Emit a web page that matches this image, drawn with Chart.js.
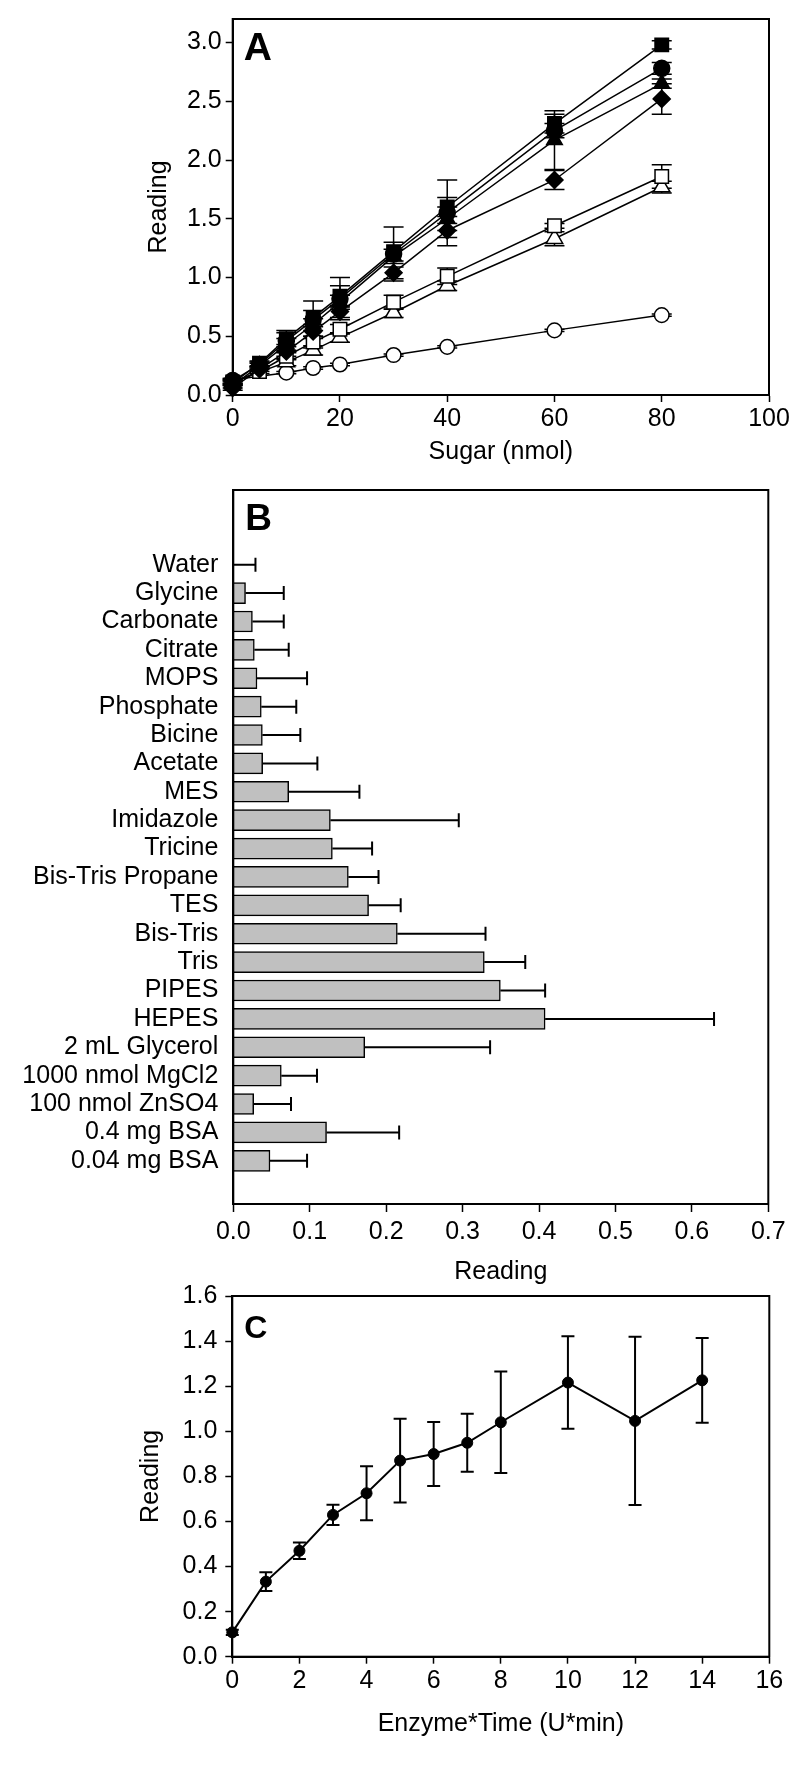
<!DOCTYPE html>
<html><head><meta charset="utf-8">
<script src="https://cdn.jsdelivr.net/npm/chart.js@4.4.1/dist/chart.umd.min.js"></script>
<style>
html,body{margin:0;padding:0;background:#fff;}
body{width:800px;height:1774px;position:relative;overflow:hidden;}
canvas{position:absolute;left:0;}
</style></head><body>
<canvas id="cA" width="800" height="480" style="top:0px"></canvas>
<canvas id="cB" width="800" height="830" style="top:460px"></canvas>
<canvas id="cC" width="800" height="504" style="top:1270px"></canvas>
<script>
// ---------- Panel A data ----------
const sugarX = [0, 5, 10, 15, 20, 30, 40, 60, 80];
const sugarXShort = [0, 10, 15, 20, 30, 40, 60, 80];
const aFilledSquare = [0.10, 0.27, 0.48, 0.66, 0.84, 1.22, 1.60, 2.31, 2.98];
const aFilledSquareErr = [0.02, 0.02, 0.05, 0.06, 0.09, 0.08, 0.08, 0.08, 0.035];
const aFilledCircle = [0.12, 0.26, 0.46, 0.64, 0.82, 1.20, 1.55, 2.25, 2.78];
const aFilledCircleErr = [0.02, 0.02, 0.09, 0.16, 0.18, 0.23, 0.28, 0.06, 0.05];
const aFilledTriangle = [0.08, 0.25, 0.43, 0.60, 0.79, 1.18, 1.50, 2.17, 2.65];
const aFilledTriangleErr = [0.02, 0.02, 0.05, 0.05, 0.06, 0.06, 0.10, 0.25, 0.04];
const aFilledDiamond = [0.06, 0.22, 0.37, 0.54, 0.71, 1.04, 1.40, 1.83, 2.52];
const aFilledDiamondErr = [0.02, 0.02, 0.04, 0.04, 0.05, 0.05, 0.06, 0.08, 0.13];
const aOpenSquare = [0.11, 0.20, 0.33, 0.45, 0.56, 0.79, 1.01, 1.44, 1.86];
const aOpenSquareErr = [0.02, 0.02, 0.03, 0.05, 0.04, 0.06, 0.07, 0.02, 0.10];
const aOpenTriangle = [0.11, 0.28, 0.38, 0.49, 0.70, 0.93, 1.33, 1.77];
const aOpenTriangleErr = [0.02, 0.03, 0.04, 0.04, 0.04, 0.04, 0.06, 0.05];
const aOpenCircle = [0.13, 0.19, 0.23, 0.26, 0.34, 0.41, 0.55, 0.68];
const aOpenCircleErr = [0.01, 0.01, 0.01, 0.01, 0.01, 0.01, 0.01, 0.01];
const aXTicks = [0, 20, 40, 60, 80, 100];
const aYTicks = [0, 0.5, 1.0, 1.5, 2.0, 2.5, 3.0];

// ---------- Panel B data ----------
const bCategories = ['Water', 'Glycine', 'Carbonate', 'Citrate', 'MOPS', 'Phosphate', 'Bicine', 'Acetate',
  'MES', 'Imidazole', 'Tricine', 'Bis-Tris Propane', 'TES', 'Bis-Tris', 'Tris', 'PIPES', 'HEPES',
  '2 mL Glycerol', '1000 nmol MgCl2', '100 nmol ZnSO4', '0.4 mg BSA', '0.04 mg BSA'];
const bValues = [0.0, 0.016, 0.025, 0.0275, 0.031, 0.0366, 0.038, 0.0384, 0.0725, 0.127, 0.1296, 0.1505,
  0.177, 0.2146, 0.3284, 0.3494, 0.408, 0.172, 0.0628, 0.0267, 0.122, 0.048];
const bErrors = [0.029, 0.050, 0.041, 0.045, 0.0655, 0.0458, 0.0497, 0.0716, 0.0925, 0.168, 0.052, 0.0395,
  0.042, 0.1154, 0.0536, 0.0586, 0.221, 0.164, 0.0467, 0.0488, 0.095, 0.0485];
const bXTicks = [0, 0.1, 0.2, 0.3, 0.4, 0.5, 0.6, 0.7];

// ---------- Panel C data ----------
const cX = [0, 1, 2, 3, 4, 5, 6, 7, 8, 10, 12, 14];
const cY = [0.108, 0.333, 0.470, 0.629, 0.725, 0.870, 0.899, 0.949, 1.040, 1.216, 1.046, 1.226];
const cErr = [0.012, 0.042, 0.037, 0.045, 0.12, 0.186, 0.142, 0.129, 0.225, 0.205, 0.373, 0.188];
const cXTicks = [0, 2, 4, 6, 8, 10, 12, 14, 16];
const cYTicks = [0, 0.2, 0.4, 0.6, 0.8, 1.0, 1.2, 1.4, 1.6];

// ---------- common ----------
const FONT = "'Liberation Sans', Arial, Helvetica, sans-serif";
const FS = 25;
Chart.defaults.font.family = FONT;
Chart.defaults.font.size = FS;
Chart.defaults.color = '#000';
Chart.defaults.animation = false;

const pts = (xs, ys) => xs.map((x, i) => ({x: x, y: ys[i]}));

const errorBarPlugin = {
  id: 'errorBars',
  beforeDatasetsDraw(chart) { drawErrors(chart, false); },
  afterDatasetsDraw(chart) { drawErrors(chart, true); }
};
function drawErrors(chart, after) {
  const ctx = chart.ctx;
  const horiz = chart.options.indexAxis === 'y';
  const xs = chart.scales.x, ys = chart.scales.y;
  chart.data.datasets.forEach((ds) => {
    if (!ds.errorBars) return;
    if (!!ds.errorAfter !== after) return;
    ctx.save();
    ctx.strokeStyle = '#000';
    ctx.lineWidth = ds.errorLineWidth || 1.5;
    const cap = (ds.errorCap || 14) / 2;
    ds.data.forEach((d, j) => {
      const e = ds.errorBars[j];
      if (e == null) return;
      ctx.beginPath();
      if (horiz) {
        const y = ys.getPixelForValue(d.y);
        const x0 = xs.getPixelForValue(d.x);
        const x1 = xs.getPixelForValue(d.x + e);
        ctx.moveTo(x0, y); ctx.lineTo(x1, y);
        ctx.moveTo(x1, y - cap); ctx.lineTo(x1, y + cap);
      } else {
        const x = xs.getPixelForValue(d.x);
        const y0 = ys.getPixelForValue(d.y - e);
        const y1 = ys.getPixelForValue(d.y + e);
        ctx.moveTo(x, y0); ctx.lineTo(x, y1);
        ctx.moveTo(x - cap, y0); ctx.lineTo(x + cap, y0);
        ctx.moveTo(x - cap, y1); ctx.lineTo(x + cap, y1);
      }
      ctx.stroke();
    });
    ctx.restore();
  });
}

const framePlugin = {
  id: 'frame',
  afterDraw(chart, args, opts) {
    const {ctx, chartArea: a} = chart;
    ctx.save();
    ctx.strokeStyle = '#000';
    ctx.lineWidth = 2;
    ctx.strokeRect(a.left, a.top, a.right - a.left, a.bottom - a.top);
    if (opts.letter) {
      ctx.fillStyle = '#000';
      ctx.font = 'bold ' + opts.letterSize + 'px ' + FONT;
      ctx.textBaseline = 'alphabetic';
      ctx.textAlign = 'left';
      ctx.fillText(opts.letter, a.left + opts.letterDx, a.top + opts.letterDy);
    }
    ctx.restore();
  }
};

function fixedTicks(arr) {
  return (scale) => { scale.ticks = arr.map(v => ({value: v})); };
}

function lineDs(xs, ys, errs, style, radius, filled) {
  return {
    data: pts(xs, ys),
    showLine: true,
    borderColor: '#000',
    borderWidth: 1.5,
    pointStyle: style,
    pointRadius: radius,
    pointBackgroundColor: filled ? '#000' : '#fff',
    pointBorderColor: '#000',
    pointBorderWidth: 1.5,
    clip: false,
    errorBars: errs,
    errorCap: 20,
    errorLineWidth: 1.5
  };
}

// ---------- Chart A ----------
new Chart(document.getElementById('cA'), {
  type: 'scatter',
  data: {
    datasets: [
      lineDs(sugarX, aFilledSquare, aFilledSquareErr, 'rect', 9.5, true),
      lineDs(sugarX, aFilledCircle, aFilledCircleErr, 'circle', 8, true),
      lineDs(sugarX, aFilledTriangle, aFilledTriangleErr, 'triangle', 9, true),
      lineDs(sugarX, aFilledDiamond, aFilledDiamondErr, 'rectRot', 8.5, true),
      lineDs(sugarX, aOpenSquare, aOpenSquareErr, 'rect', 9.5, false),
      lineDs(sugarXShort, aOpenTriangle, aOpenTriangleErr, 'triangle', 9.5, false),
      lineDs(sugarXShort, aOpenCircle, aOpenCircleErr, 'circle', 7.3, false)
    ]
  },
  options: {
    responsive: false,
    events: [],
    layout: {padding: {left: 0, right: 31, top: 19, bottom: 0}},
    plugins: {legend: {display: false}, tooltip: {enabled: false},
      frame: {letter: 'A', letterSize: 39, letterDx: 11, letterDy: 41}},
    scales: {
      x: {
        type: 'linear', min: 0, max: 100,
        afterBuildTicks: fixedTicks(aXTicks),
        afterFit: (s) => { s.height = 85; },
        grid: {drawOnChartArea: false, drawTicks: true, tickLength: 7, tickColor: '#000', tickWidth: 1.5},
        border: {display: true, color: '#000', width: 2},
        ticks: {padding: 2, color: '#000', callback: (v) => String(v)},
        title: {display: true, text: 'Sugar (nmol)', color: '#000', font: {size: FS}, padding: {top: 0, bottom: 13}}
      },
      y: {
        type: 'linear', min: 0, max: 3.2,
        afterBuildTicks: fixedTicks(aYTicks),
        afterFit: (s) => { s.width = 232.7; },
        grid: {drawOnChartArea: false, drawTicks: true, tickLength: 7, tickColor: '#000', tickWidth: 1.5},
        border: {display: true, color: '#000', width: 2},
        ticks: {padding: 4, color: '#000', callback: (v) => Number(v).toFixed(1)},
        title: {display: true, text: 'Reading', color: '#000', font: {size: FS}, padding: {top: 144, bottom: 0}}
      }
    }
  },
  plugins: [errorBarPlugin, framePlugin]
});

// ---------- Chart B ----------
new Chart(document.getElementById('cB'), {
  type: 'bar',
  data: {
    datasets: [{
      data: bValues.map((v, i) => ({x: v, y: i})),
      backgroundColor: '#c0c0c0',
      borderColor: '#000',
      borderWidth: 1.5,
      barThickness: 21,
      errorBars: bErrors,
      errorAfter: true,
      errorCap: 14,
      errorLineWidth: 2
    }]
  },
  options: {
    indexAxis: 'y',
    responsive: false,
    events: [],
    layout: {padding: {left: 0, right: 31.7, top: 13.3, bottom: 0}},
    plugins: {legend: {display: false}, tooltip: {enabled: false},
      frame: {letter: 'B', letterSize: 37, letterDx: 12, letterDy: 40}},
    scales: {
      x: {
        type: 'linear', min: 0, max: 0.7,
        afterBuildTicks: fixedTicks(bXTicks),
        afterFit: (s) => { s.height = 86; },
        grid: {drawOnChartArea: false, drawTicks: true, tickLength: 8, tickColor: '#000', tickWidth: 1.5},
        border: {display: true, color: '#000', width: 2},
        ticks: {padding: 5, color: '#000', callback: (v) => Number(v).toFixed(1)},
        title: {display: true, text: 'Reading', color: '#000', font: {size: FS}, padding: {top: 0, bottom: 3}}
      },
      y: {
        type: 'linear', reverse: true, min: -2.06, max: 21.95,
        afterBuildTicks: fixedTicks(bCategories.map((c, i) => i)),
        afterFit: (s) => { s.width = 233.3; },
        grid: {display: false, drawTicks: false},
        border: {display: true, color: '#000', width: 2},
        ticks: {padding: 15, color: '#000', autoSkip: false, callback: (v) => bCategories[v]}
      }
    }
  },
  plugins: [errorBarPlugin, framePlugin]
});

// ---------- Chart C ----------
new Chart(document.getElementById('cC'), {
  type: 'scatter',
  data: {
    datasets: [{
      data: pts(cX, cY),
      showLine: true,
      borderColor: '#000',
      borderWidth: 2,
      pointStyle: 'circle',
      pointRadius: 5.5,
      pointBackgroundColor: '#000',
      pointBorderColor: '#000',
      pointBorderWidth: 1,
      clip: false,
      errorBars: cErr,
      errorCap: 13,
      errorLineWidth: 2
    }]
  },
  options: {
    responsive: false,
    events: [],
    layout: {padding: {left: 0, right: 30.7, top: 26, bottom: 0}},
    plugins: {legend: {display: false}, tooltip: {enabled: false},
      frame: {letter: 'C', letterSize: 32, letterDx: 12, letterDy: 42}},
    scales: {
      x: {
        type: 'linear', min: 0, max: 16,
        afterBuildTicks: fixedTicks(cXTicks),
        afterFit: (s) => { s.height = 117.3; },
        grid: {drawOnChartArea: false, drawTicks: true, tickLength: 7, tickColor: '#000', tickWidth: 1.5},
        border: {display: true, color: '#000', width: 2},
        ticks: {padding: 2, color: '#000', callback: (v) => String(v)},
        title: {display: true, text: 'Enzyme*Time (U*min)', color: '#000', font: {size: FS}, padding: {top: 0, bottom: 35}}
      },
      y: {
        type: 'linear', min: 0, max: 1.6,
        afterBuildTicks: fixedTicks(cYTicks),
        afterFit: (s) => { s.width = 232.3; },
        grid: {drawOnChartArea: false, drawTicks: true, tickLength: 7, tickColor: '#000', tickWidth: 1.5},
        border: {display: true, color: '#000', width: 2},
        ticks: {padding: 8, color: '#000', callback: (v) => Number(v).toFixed(1)},
        title: {display: true, text: 'Reading', color: '#000', font: {size: FS}, padding: {top: 136, bottom: 0}}
      }
    }
  },
  plugins: [errorBarPlugin, framePlugin]
});
</script>
</body></html>
